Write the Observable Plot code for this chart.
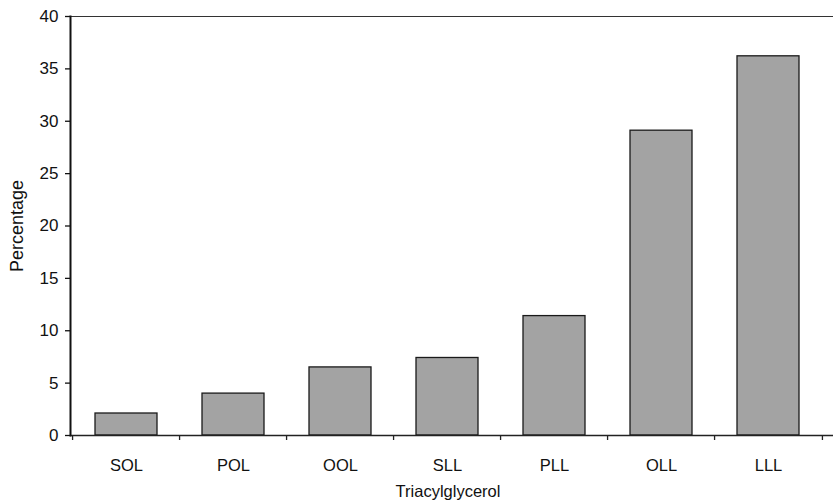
<!DOCTYPE html>
<html>
<head>
<meta charset="utf-8">
<script src="https://cdn.jsdelivr.net/npm/d3@7"></script>
<script src="https://cdn.jsdelivr.net/npm/@observablehq/plot@0.6"></script>
<style>
  html, body { margin: 0; padding: 0; background: #fff; }
  #chart svg { display: block; }
</style>
</head>
<body>
<div id="chart"></div>
<script>
const categories = ["SOL", "POL", "OOL", "SLL", "PLL", "OLL", "LLL"];
const values = [2.1, 4.0, 6.5, 7.4, 11.4, 29.1, 36.2];
const yTicks = [0, 5, 10, 15, 20, 25, 30, 35, 40];
const xTitle = "Triacylglycerol";
const yTitle = "Percentage";

const data = categories.map((c, i) => ({category: c, value: values[i]}));

const W = 833, H = 502;
const mL = 70, mR = 8, mT = 16, mB = 67;
const step = (W - mL - mR) / categories.length;
const plotH = H - mT - mB;

const chart = Plot.plot({
  width: W,
  height: H,
  marginLeft: mL,
  marginRight: mR,
  marginTop: mT,
  marginBottom: mB,
  style: {fontFamily: "'Liberation Sans', Arial, sans-serif", fontSize: "17px", color: "#111", background: "#fff"},
  x: {type: "band", domain: categories, paddingInner: 0.42, paddingOuter: 0.21, align: 0.5},
  y: {domain: [0, 40]},
  marks: [
    Plot.frame({anchor: "top", stroke: "#333", strokeWidth: 1.2, insetRight: -mR}),
    Plot.barY(data, {x: "category", y: "value", fill: "#a3a3a3", stroke: "#1a1a1a", strokeWidth: 1.3}),
    // x-axis tick marks at the band boundaries
    Plot.ruleX(categories, {x: d => d, dx: -step / 2, insetTop: plotH, insetBottom: -5, stroke: "#222", strokeWidth: 1.3}),
    Plot.ruleX(categories.slice(-1), {x: d => d, dx: step / 2, insetTop: plotH, insetBottom: -5, stroke: "#222", strokeWidth: 1.3}),
    Plot.frame({anchor: "bottom", stroke: "#222", strokeWidth: 1.5, insetRight: -mR}),
    Plot.frame({anchor: "left", stroke: "#111", strokeWidth: 2}),
    Plot.axisY({ticks: yTicks, tickSize: 5, tickPadding: 7, fontSize: 17, label: null, stroke: "#111", strokeWidth: 1.3}),
    Plot.axisX({tickSize: 0, tickPadding: 24, fontSize: 16.5, label: null}),
    Plot.text([yTitle], {frameAnchor: "left", textAnchor: "middle", lineAnchor: "middle", dx: -53, rotate: -90, fontSize: 18, text: d => d}),
    Plot.text([xTitle], {frameAnchor: "bottom", textAnchor: "middle", lineAnchor: "middle", dy: 56, fontSize: 16.5, text: d => d})
  ]
});

document.getElementById("chart").appendChild(chart);
</script>
</body>
</html>
